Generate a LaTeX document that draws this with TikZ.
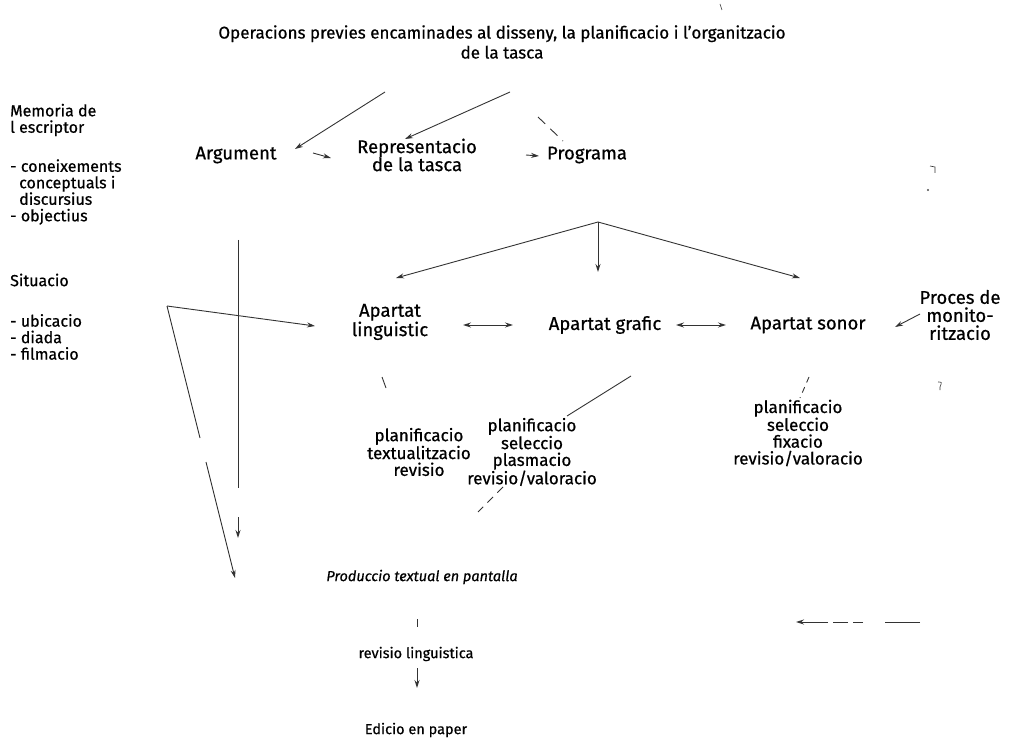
\documentclass[tikz,border=0pt]{standalone}
\usepackage{fontspec}
\setmainfont{Fira Sans}[FakeBold=0.6]
\usetikzlibrary{arrows.meta}
\begin{document}
\begin{tikzpicture}[x=1pt,y=-1pt,
  base/.style={inner sep=0pt, align=center, text=black},
  ttl/.style={base, font=\fontsize{17}{20}\selectfont},
  lab/.style={base, font=\fontsize{18.5}{18}\selectfont},
  lst/.style={base, font=\fontsize{17}{16.8}\selectfont},
  bot/.style={base, font=\fontsize{14.5}{18}\selectfont},
  ltxt/.style={base, font=\fontsize{16}{16.5}\selectfont, align=left, anchor=west},
  ln/.style={line width=0.9pt, black!80},
  tip/.style={-{Stealth[length=8pt,width=5pt]}},
  arr/.style={ln, tip},
  dbl/.style={ln, {Stealth[length=8pt,width=5pt]}-{Stealth[length=8pt,width=5pt]}},
]
\useasboundingbox (0,0) rectangle (1010,746);

% texts
\node[ttl] (title) at (502,42) {Operacions previes encaminades al disseny, la planificacio i l'organitzacio\\de la tasca};
\node[ltxt] (mem) at (10,120) {Memoria de\\l escriptor};
\node[ltxt] (con) at (10,192) {- coneixements\\\hspace*{9pt}conceptuals i\\\hspace*{9pt}discursius\\- objectius};
\node[ltxt] (sit) at (10,280) {Situacio};
\node[ltxt] (ubi) at (10,337) {- ubicacio\\- diada\\- filmacio};
\node[lab] (arg) at (236,155) {Argument};
\node[lab] (rep) at (417,155) {Representacio\\de la tasca};
\node[lab] (prog) at (587,155) {Programa};
\node[lab] (ling) at (390,322) {Apartat\\linguistic};
\node[lab] (graf) at (605,325) {Apartat grafic};
\node[lab] (son) at (808,325) {Apartat sonor};
\node[lab] (proc) at (960,315) {Proces de\\monito-\\ritzacio};
\node[lst] (l1) at (419,452) {planificacio\\textualitzacio\\revisio};
\node[lst] (l2) at (532,452) {planificacio\\seleccio\\plasmacio\\revisio/valoracio};
\node[lst] (l3) at (798,433) {planificacio\\seleccio\\fixacio\\revisio/valoracio};
\node[bot, font=\fontsize{14.5}{18}\selectfont\itshape] (prod) at (422,577) {Produccio textual en pantalla};
\node[bot] (revl) at (416,654) {revisio linguistica};
\node[bot] (ed) at (416,730) {Edicio en paper};

% coordinates
\coordinate (t1a) at (385,92);  \coordinate (t1b) at (295,149);
\coordinate (t2a) at (510,92);  \coordinate (t2b) at (405,139);
\coordinate (t3a) at (538,117); \coordinate (t3b) at (563,141);
\coordinate (ar1) at (313,153); \coordinate (ar2) at (331,158);
\coordinate (rp1) at (526,155); \coordinate (rp2) at (539,156);
\coordinate (pf) at (598,222);
\coordinate (pl) at (396,278); \coordinate (pg) at (598,272); \coordinate (ps) at (800,278);
\coordinate (v1) at (238,240); \coordinate (v2) at (238,488);
\coordinate (v3) at (238,517); \coordinate (v4) at (238,538);
\coordinate (sc) at (167,306); \coordinate (sh) at (315,326);
\coordinate (sd1) at (200,438); \coordinate (sd2) at (206,462); \coordinate (sd3) at (235,578);
\coordinate (d1a) at (463,325); \coordinate (d1b) at (513,325);
\coordinate (d2a) at (676,325); \coordinate (d2b) at (726,325);
\coordinate (pr1) at (920,314); \coordinate (pr2) at (895,327);
\coordinate (m1a) at (382,377); \coordinate (m1b) at (386,388);
\coordinate (g1) at (631,376); \coordinate (g2) at (567,416);
\coordinate (g3) at (503,487); \coordinate (g4) at (478,512);
\coordinate (s1) at (809,377); \coordinate (s2) at (800,398);
\coordinate (k1) at (417,619); \coordinate (k2) at (417,627);
\coordinate (e1) at (417,668); \coordinate (e2) at (417,688);
\coordinate (b1) at (920,622); \coordinate (b2) at (796,622);

% connectors
\draw[arr] (t1a) -- (t1b);
\draw[arr] (t2a) -- (t2b);
\draw[ln, dash pattern=on 10pt off 7pt] (t3a) -- (t3b);
\draw[arr] (ar1) -- (ar2);
\draw[arr] (rp1) -- (rp2);
\draw[arr] (pf) -- (pl);
\draw[arr] (pf) -- (pg);
\draw[arr] (pf) -- (ps);
\draw[ln] (v1) -- (v2);
\draw[arr] (v3) -- (v4);
\draw[arr] (sc) -- (sh);
\draw[ln] (sc) -- (sd1);
\draw[arr] (sd2) -- (sd3);
\draw[dbl] (d1a) -- (d1b);
\draw[dbl] (d2a) -- (d2b);
\draw[arr] (pr1) -- (pr2);
\draw[ln] (m1a) -- (m1b);
\draw[ln] (g1) -- (g2);
\draw[ln, dash pattern=on 8pt off 6pt] (g3) -- (g4);
\draw[ln, dash pattern=on 6pt off 5pt] (s1) -- (s2);
\draw[ln] (k1) -- (k2);
\draw[arr] (e1) -- (e2);
\draw[arr, dash pattern=on 35pt off 22pt on 10pt off 5pt on 15pt off 5pt on 40pt] (b1) -- (b2);

% scan marks
\draw[ln, line width=0.6pt] (720,4) -- (722,10);
\draw[ln, line width=0.6pt] (930,166) -- (935,167) -- (935,173);
\fill[black!70] (928,190) circle (1.2pt);
\draw[ln, line width=0.6pt] (938,382) .. controls (942,382) .. (940,387) -- (940,390);
\end{tikzpicture}
\end{document}
